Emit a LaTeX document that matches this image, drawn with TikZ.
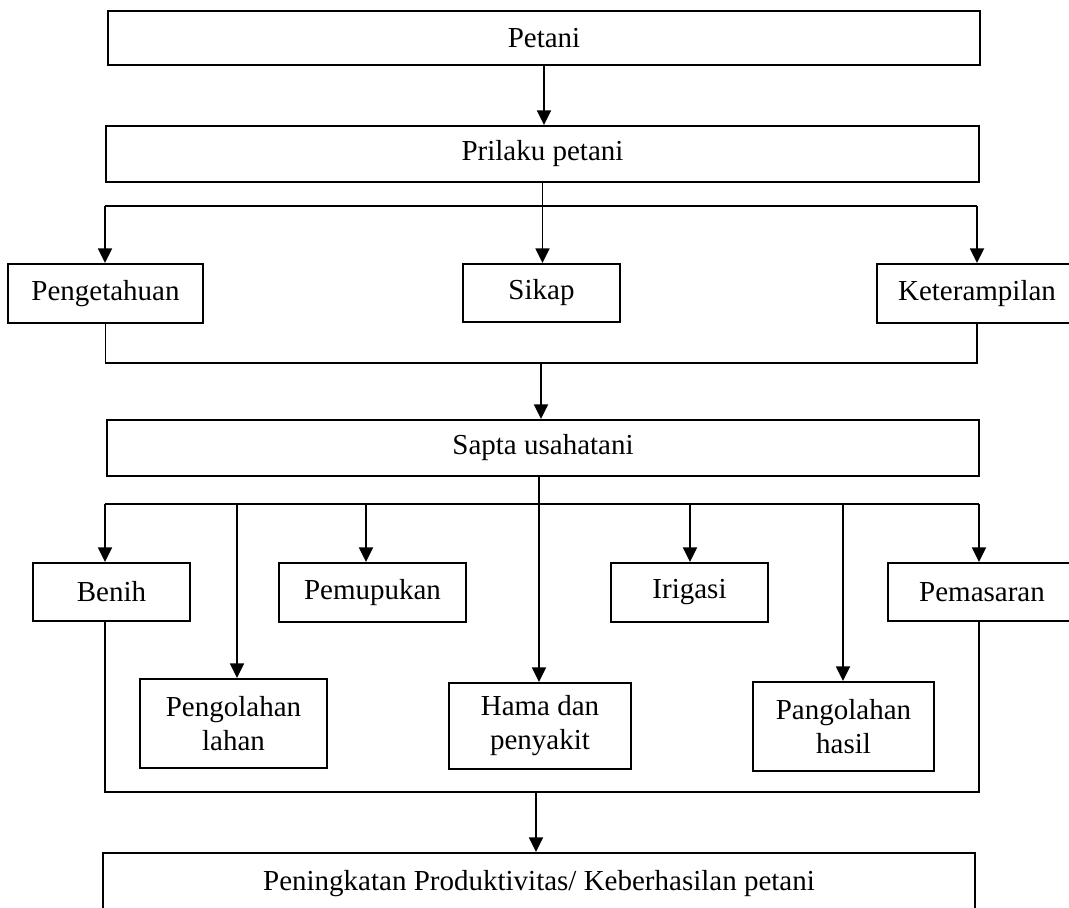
\documentclass[tikz,border=0pt]{standalone}
\usepackage{fontspec}
\setmainfont{Liberation Serif}
\usetikzlibrary{arrows.meta}

\begin{document}
\begin{tikzpicture}[x=0.75pt, y=-0.75pt,
        box/.style={draw, rectangle, line width=1.5pt, inner sep=0pt,
                    align=center, font=\fontsize{21.75}{25.5}\selectfont},
        link/.style={line width=1.3pt},
        arr/.style={link, -{Triangle[length=11pt, width=10.5pt]}}]
        \useasboundingbox (0, 0) rectangle (1069, 907);

        % level 1
        \node [box, minimum width=654pt, minimum height=40.5pt] (petani) at (544, 38) {Petani};
        \node [box, minimum width=654.75pt, minimum height=42pt] (prilaku) at (542.5, 154) {Prilaku petani};

        % level 2
        \node [box, minimum width=146.25pt, minimum height=44.25pt] (penget) at (105.5, 293.5) {Pengetahuan};
        \node [box, minimum width=117.75pt, minimum height=43.5pt] (sikap) at (541.5, 293) {Sikap};
        \node [box, minimum width=150pt, minimum height=44.25pt] (ketr) at (977, 293.5) {Keterampilan};

        \node [box, minimum width=654pt, minimum height=42pt] (sapta) at (543, 448) {Sapta usahatani};

        % level 3
        \node [box, minimum width=117.75pt, minimum height=43.5pt] (benih) at (111.5, 592) {Benih};
        \node [box, minimum width=140.25pt, minimum height=44.25pt] (pupuk) at (372.5, 592.5) {Pemupukan};
        \node [box, minimum width=117.75pt, minimum height=44.25pt] (irigasi) at (689.5, 592.5) {Irigasi};
        \node [box, minimum width=141pt, minimum height=43.5pt] (pasar) at (982, 592) {Pemasaran};
        \node [box, minimum width=140.25pt, minimum height=66.75pt] (olahlahan) at (233.5, 723.5) {Pengolahan\\lahan};
        \node [box, minimum width=136.5pt, minimum height=64.5pt] (hama) at (540, 726) {Hama dan\\penyakit};
        \node [box, minimum width=135.75pt, minimum height=66.75pt] (olahhasil) at (843.5, 726.5) {Pangolahan\\hasil};

        \node [box, minimum width=654pt, minimum height=46.5pt] (hasil) at (539, 884)
              {Peningkatan Produktivitas/ Keberhasilan petani};

        % petani to prilaku
        \draw [arr] (petani.south) -- (petani.south |- prilaku.north);

        % prilaku to level 2
        \coordinate (barAL) at (105, 206);
        \coordinate (barAR) at (977, 206);
        \draw [link] (barAL) -- (barAR);
        \draw [arr] (barAL) -- (barAL |- penget.north);
        \draw [arr] (barAR) -- (barAR |- ketr.north);
        \draw [arr] (prilaku.south) -- (prilaku.south |- sikap.north);

        % level 2 to sapta
        \coordinate (joinA) at (541, 363);
        \draw [link] (penget.south) |- (joinA) -| (ketr.south);
        \draw [arr] (joinA) -- (joinA |- sapta.north);

        % sapta to level 3
        \coordinate (barBL) at (105, 504);
        \coordinate (barBR) at (979, 504);
        \coordinate (stemB) at (539, 504);
        \draw [link] (barBL) -- (barBR);
        \draw [arr] (stemB |- sapta.south) -- (stemB |- hama.north);
        \foreach \px/\target in {105/benih, 237/olahlahan, 366/pupuk,
                                 690/irigasi, 843/olahhasil, 979/pasar}
        {
                \coordinate (drop) at (\px, 504);
                \draw [arr] (drop) -- (drop |- \target.north);
        }

        % level 3 to hasil
        \coordinate (joinB) at (536, 792);
        \draw [link] (barBL |- benih.south) |- (joinB) -| (barBR |- pasar.south);
        \draw [arr] (joinB) -- (joinB |- hasil.north);
\end{tikzpicture}
\end{document}
